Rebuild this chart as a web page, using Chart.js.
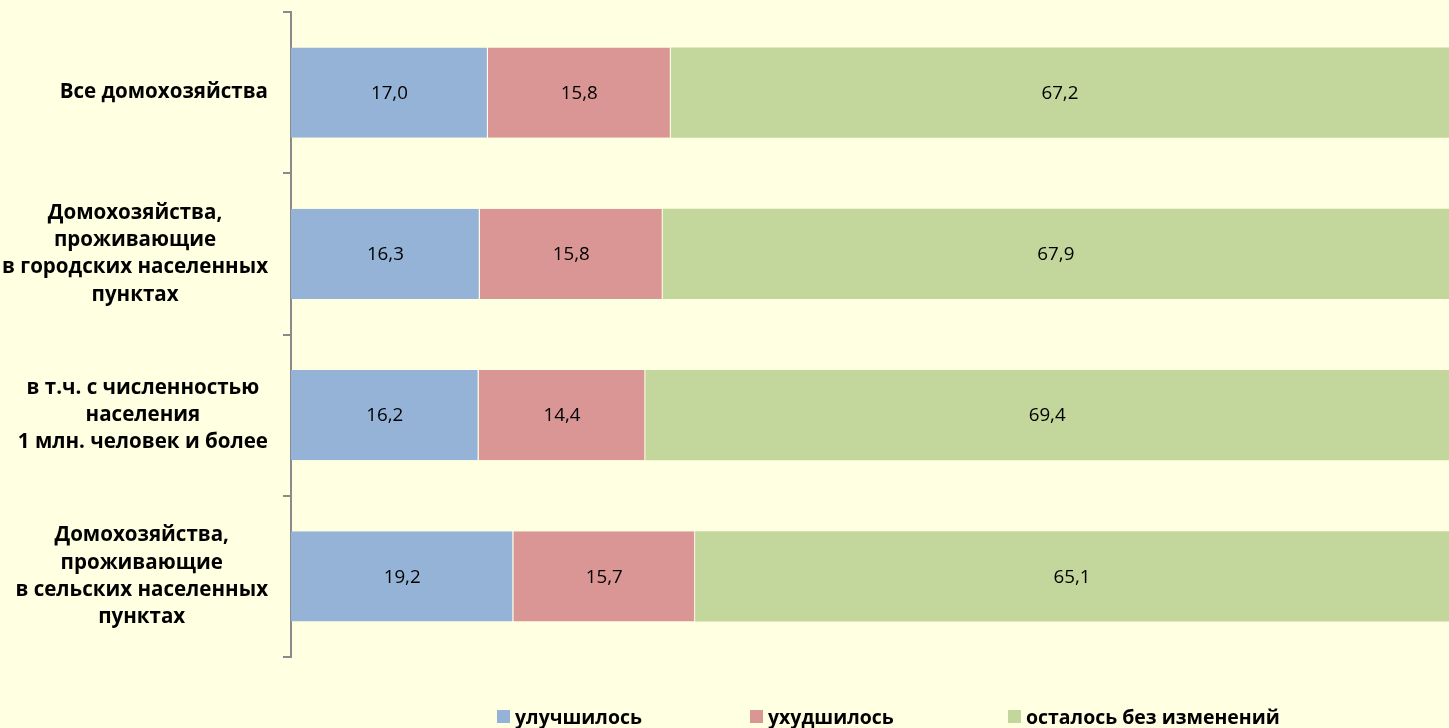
<!DOCTYPE html>
<html>
<head>
<meta charset="utf-8">
<script src="https://cdn.jsdelivr.net/npm/chart.js@4/dist/chart.umd.min.js"></script>
<style>
  html, body { margin:0; padding:0; background:#FFFFE1; }
  #wrap { position:relative; width:1449px; height:728px; background:#FFFFE1; overflow:hidden; }
  canvas { position:absolute; left:0; top:0; }
  .item { position:absolute; top:704px; display:flex; align-items:center; white-space:nowrap;
          font-family: "Open Sans", sans-serif; font-weight:bold; color:#000; height:24px; }
  .box { width:13px; height:13px; margin-right:5px; }
</style>
</head>
<body>
<div id="wrap">
  <canvas id="c" width="1449" height="728"></canvas>
</div>
<script>
const categories = [
  ["Все домохозяйства"],
  ["Домохозяйства,", "проживающие", "в городских населенных", "пунктах"],
  ["в т.ч. с численностью", "населения", "1 млн. человек и более"],
  ["Домохозяйства,", "проживающие", "в сельских населенных", "пунктах"]
];
const seriesNames = ["улучшилось", "ухудшилось", "осталось без изменений"];
const improved = [17.0, 16.3, 16.2, 19.2];
const worsened = [15.8, 15.8, 14.4, 15.7];
const unchanged = [67.2, 67.9, 69.4, 65.1];
const colors = ["#95B3D7", "#D99694", "#C3D69B"];

const FONT = '"Open Sans", sans-serif';

// font sizes fitted to the reference text widths
const mctx = document.createElement('canvas').getContext('2d');
function fitSize(text, weight, target) {
  mctx.font = weight + ' 100px ' + FONT;
  return 100 * target / mctx.measureText(text).width;
}
const catSize = fitSize("в городских населенных", 'bold', 266);
const valSize = fitSize("67,2", 'normal', 37);
const legSize = fitSize("осталось без изменений", 'bold', 254);

const valueLabels = {
  id: 'valueLabels',
  afterDatasetsDraw(chart) {
    const ctx = chart.ctx;
    ctx.save();
    ctx.font = valSize.toFixed(2) + 'px ' + FONT;
    ctx.fillStyle = '#000';
    ctx.textAlign = 'center';
    ctx.textBaseline = 'middle';
    chart.data.datasets.forEach((ds, di) => {
      chart.getDatasetMeta(di).data.forEach((el, i) => {
        const cx = (el.x + el.base) / 2;
        ctx.fillText(ds.data[i].toFixed(1).replace('.', ','), cx, el.y + 1);
      });
    });
    ctx.restore();
  }
};

const catLabels = {
  id: 'catLabels',
  afterDraw(chart) {
    const ctx = chart.ctx;
    const y = chart.scales.y;
    ctx.save();
    ctx.font = 'bold ' + catSize.toFixed(2) + 'px ' + FONT;
    ctx.fillStyle = '#000';
    ctx.textAlign = 'center';
    ctx.textBaseline = 'middle';
    const right = 268, lh = 27.3;
    categories.forEach((lines, i) => {
      const cy = y.getPixelForTick(i);
      const w = Math.max(...lines.map(l => ctx.measureText(l).width));
      const cx = right - w / 2;
      const top = cy - (lines.length - 1) * lh / 2;
      lines.forEach((l, k) => ctx.fillText(l, cx, top + k * lh));
    });
    ctx.restore();
  }
};

const sepBorder = { top:0, bottom:0, left:0, right:1 };

new Chart(document.getElementById('c'), {
  type: 'bar',
  data: {
    labels: categories.map(c => c.join(' ')),
    datasets: [
      { label: seriesNames[0], data: improved, backgroundColor: colors[0], borderColor: 'rgba(255,255,255,0.55)', borderWidth: sepBorder, borderSkipped: false },
      { label: seriesNames[1], data: worsened, backgroundColor: colors[1], borderColor: 'rgba(255,255,255,0.55)', borderWidth: sepBorder, borderSkipped: false },
      { label: seriesNames[2], data: unchanged, backgroundColor: colors[2], borderWidth: 0 }
    ]
  },
  options: {
    indexAxis: 'y',
    responsive: false,
    animation: false,
    layout: { padding: { top: 12, bottom: 71, left: 0, right: 0 } },
    datasets: { bar: { categoryPercentage: 1, barPercentage: 0.56 } },
    plugins: { legend: { display: false }, tooltip: { enabled: false } },
    scales: {
      x: { stacked: true, min: 0, max: 100, display: false },
      y: {
        stacked: true,
        afterFit: s => { s.width = 291; },
        ticks: { display: false },
        grid: { offset: true, drawOnChartArea: false, drawTicks: true, tickLength: 8, color: '#8A8A8A', lineWidth: 2 },
        border: { display: true, color: '#8A8A8A', width: 2 }
      }
    }
  },
  plugins: [valueLabels, catLabels]
});

const wrap = document.getElementById('wrap');
const lefts = [497, 750, 1008];
seriesNames.forEach((n, i) => {
  const it = document.createElement('div');
  it.className = 'item';
  it.style.left = lefts[i] + 'px';
  it.style.fontSize = legSize.toFixed(2) + 'px';
  it.innerHTML = '<span class="box" style="background:' + colors[i] + '"></span><span>' + n + '</span>';
  wrap.appendChild(it);
});
</script>
</body>
</html>
